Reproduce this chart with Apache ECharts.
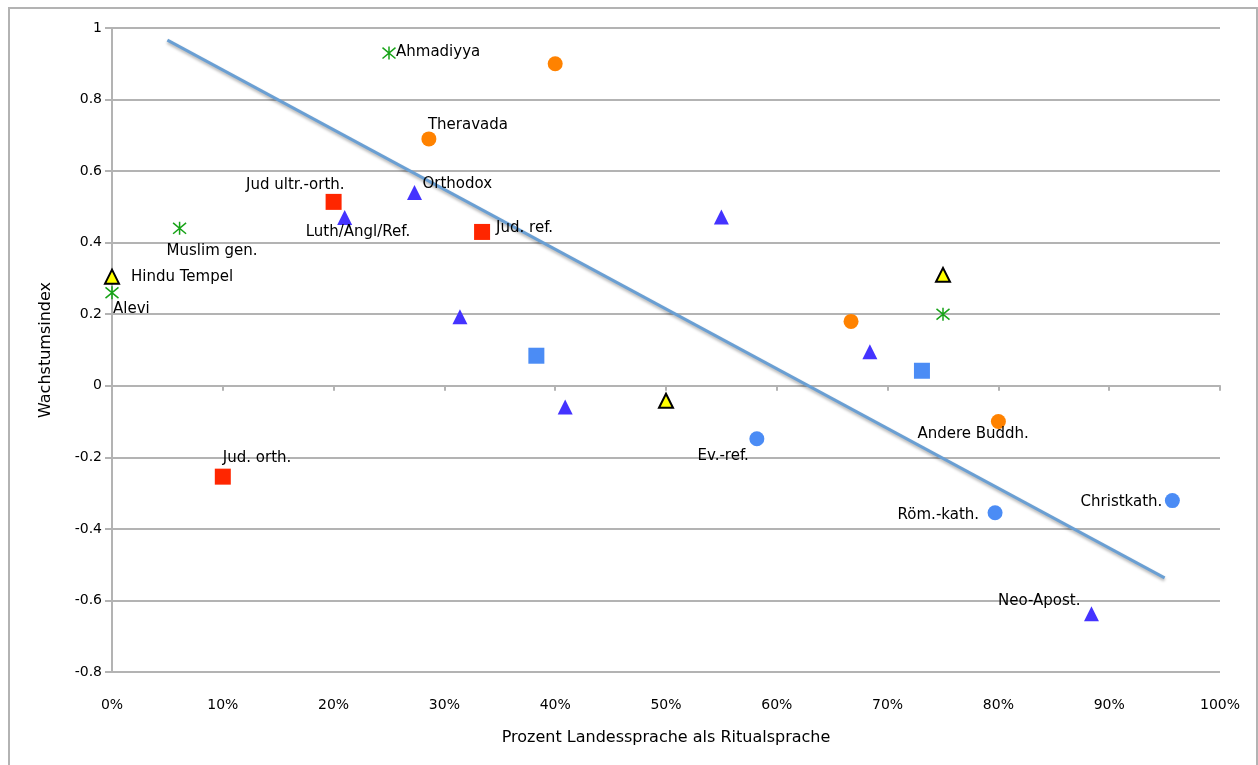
<!DOCTYPE html>
<html>
<head>
<meta charset="utf-8">
<script src="https://cdn.jsdelivr.net/npm/echarts@6/dist/echarts.min.js"></script>
<style>
  html, body { margin: 0; padding: 0; background: #fff; }
  #chart { width: 1258px; height: 765px; }
</style>
</head>
<body>
<div id="chart"></div>
<script>
// Muslim groups (green asterisk)
const muslimX = [0.25, 0.061, 0.0, 0.75];
const muslimY = [0.93, 0.44, 0.26, 0.20];
const muslimNames = ['Ahmadiyya', 'Muslim gen.', 'Alevi', ''];

// Buddhist groups (orange circle)
const buddhX = [0.40, 0.286, 0.667, 0.80];
const buddhY = [0.90, 0.69, 0.18, -0.10];
const buddhNames = ['', 'Theravada', '', 'Andere Buddh.'];

// Jewish groups (red square)
const judX = [0.20, 0.334, 0.10];
const judY = [0.514, 0.43, -0.254];
const judNames = ['Jud ultr.-orth.', 'Jud. ref.', 'Jud. orth.'];

// other Christian groups (blue triangle)
const christX = [0.21, 0.273, 0.55, 0.314, 0.409, 0.684, 0.884];
const christY = [0.47, 0.54, 0.472, 0.193, -0.059, 0.095, -0.637];
const christNames = ['Luth/Angl/Ref.', 'Orthodox', '', '', '', '', 'Neo-Apost.'];

// light blue squares
const sqX = [0.383, 0.731];
const sqY = [0.084, 0.042];
const sqNames = ['', ''];

// national churches (light blue circle)
const landX = [0.582, 0.797, 0.957];
const landY = [-0.148, -0.355, -0.321];
const landNames = ['Ev.-ref.', 'Röm.-kath.', 'Christkath.'];

// Hindu groups (yellow triangle)
const hinduX = [0.0, 0.75, 0.50];
const hinduY = [0.305, 0.31, -0.042];
const hinduNames = ['Hindu Tempel', '', ''];

// linear trend
const trendX = [0.05, 0.95];
const trendY = [0.966, -0.537];

const yTicks = [-0.8, 1, 0.2];
const xTicks = [0, 1, 0.1];

// label placement: [align, dx, dy] from marker centre
const labelPlace = {
  'Ahmadiyya': ['left', 7, -1],
  'Theravada': ['left', -1, -14],
  'Jud ultr.-orth.': ['right', 11, -17],
  'Orthodox': ['left', 8, -8],
  'Luth/Angl/Ref.': ['left', -39, 14],
  'Muslim gen.': ['left', -13, 23],
  'Jud. ref.': ['left', 14, -4],
  'Hindu Tempel': ['left', 19, 0],
  'Alevi': ['left', 1, 16],
  'Jud. orth.': ['left', 0, -19],
  'Ev.-ref.': ['right', -8, 17],
  'Andere Buddh.': ['left', -81, 13],
  'Röm.-kath.': ['right', -16, 2],
  'Christkath.': ['right', -10, 1],
  'Neo-Apost.': ['right', -11, -13]
};

const FONT = 'DejaVu Sans';

const build = (xs, ys, names) => xs.map((x, i) => {
  const n = names[i];
  const item = {value: [x, ys[i]], name: n};
  if (n && labelPlace[n]) {
    const p = labelPlace[n];
    item.label = {
      show: true,
      formatter: n,
      position: 'inside',
      align: p[0],
      verticalAlign: 'middle',
      offset: [p[1], p[2]],
      color: '#000',
      fontFamily: FONT,
      fontSize: 15
    };
  }
  return item;
});

const asterisk = 'path://M0,0 L10,10 M10,0 L0,10 M5,-1 L5,11';

const scatter = (xs, ys, names, symbol, size, style) => ({
  type: 'scatter',
  xAxisIndex: 0,
  symbol,
  symbolSize: size,
  itemStyle: Object.assign({opacity: 1}, style),
  label: {show: false},
  emphasis: {disabled: true},
  data: build(xs, ys, names),
  z: 3
});

const chart = echarts.init(document.getElementById('chart'));

const option = {
  animation: false,
  backgroundColor: '#fff',
  grid: {left: 112, right: 38, top: 28, bottom: 93},
  graphic: [{
    type: 'rect',
    shape: {x: 9, y: 8, width: 1248, height: 800},
    style: {fill: 'none', stroke: '#b3b3b3', lineWidth: 2},
    silent: true
  }],
  xAxis: [{
    type: 'value',
    min: xTicks[0], max: xTicks[1], interval: xTicks[2],
    position: 'bottom',
    axisLine: {show: false, onZero: false},
    axisTick: {show: false},
    splitLine: {show: false},
    axisLabel: {
      margin: 26, color: '#000', fontFamily: FONT, fontSize: 14,
      formatter: v => Math.round(v * 100) + '%'
    },
    name: 'Prozent Landessprache als Ritualsprache',
    nameLocation: 'middle',
    nameGap: 58,
    nameTextStyle: {color: '#000', fontFamily: FONT, fontSize: 16}
  }, {
    type: 'value',
    min: xTicks[0], max: xTicks[1], interval: xTicks[2],
    position: 'bottom',
    axisLine: {show: true, onZero: true, lineStyle: {color: '#b3b3b3', width: 2}},
    axisTick: {show: true, inside: false, length: 5, lineStyle: {color: '#b3b3b3', width: 2}},
    axisLabel: {show: false},
    splitLine: {show: false}
  }],
  yAxis: {
    type: 'value',
    min: yTicks[0], max: yTicks[1], interval: yTicks[2],
    axisLine: {show: true, onZero: false, lineStyle: {color: '#b3b3b3', width: 2}},
    axisTick: {show: true, length: 7, lineStyle: {color: '#b3b3b3', width: 2}},
    splitLine: {show: true, lineStyle: {color: '#b3b3b3', width: 2}},
    axisLabel: {
      margin: 10, color: '#000', fontFamily: FONT, fontSize: 14,
      formatter: v => String(Math.round(v * 10) / 10)
    },
    name: 'Wachstumsindex',
    nameLocation: 'middle',
    nameGap: 58,
    nameTextStyle: {color: '#000', fontFamily: FONT, fontSize: 16}
  },
  series: [
    {
      type: 'line',
      xAxisIndex: 0,
      data: trendX.map((x, i) => [x, trendY[i]]),
      symbol: 'none',
      lineStyle: {
        color: '#6a9fd3', width: 3,
        shadowColor: 'rgba(0,0,0,0.3)', shadowBlur: 3, shadowOffsetY: 2
      },
      z: 2
    },
    scatter(muslimX, muslimY, muslimNames, asterisk, 13,
      {color: 'transparent', borderColor: '#17a317', borderWidth: 1.5}),
    scatter(buddhX, buddhY, buddhNames, 'circle', 15, {color: '#ff8200'}),
    scatter(judX, judY, judNames, 'rect', 16, {color: '#ff2600'}),
    scatter(christX, christY, christNames, 'triangle', 15, {color: '#4433ff'}),
    scatter(sqX, sqY, sqNames, 'rect', 16, {color: '#4b8cf5'}),
    scatter(landX, landY, landNames, 'circle', 15, {color: '#4b8cf5'}),
    scatter(hinduX, hinduY, hinduNames, 'triangle', 14,
      {color: '#ffff00', borderColor: '#000', borderWidth: 2})
  ]
};

chart.setOption(option);
</script>
</body>
</html>
